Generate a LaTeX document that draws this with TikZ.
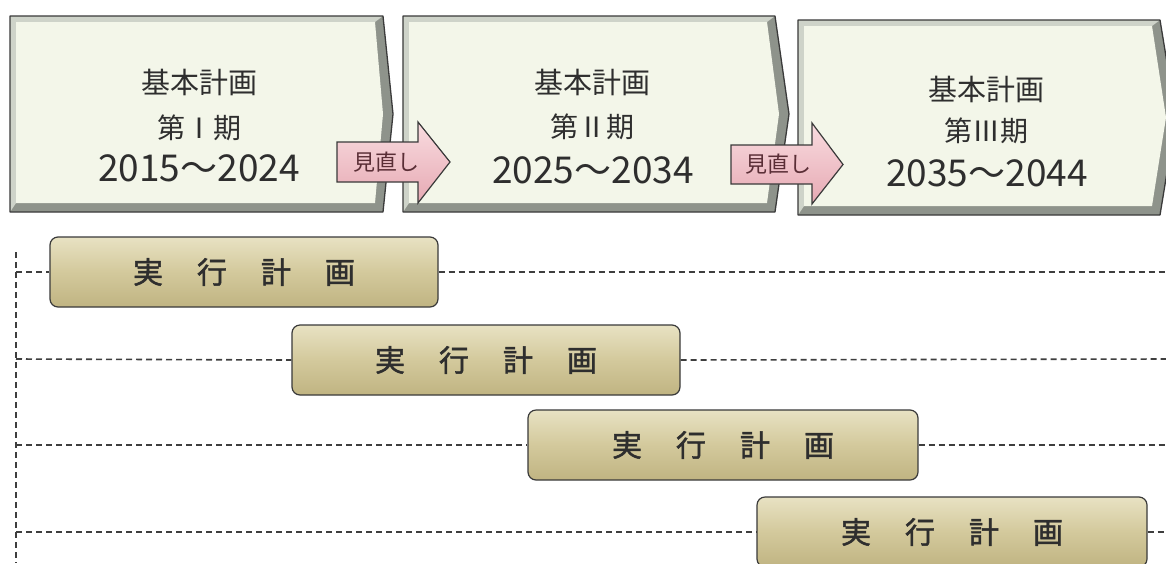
\documentclass[tikz,border=0pt]{standalone}
\usepackage{fontspec}
\setmainfont{Noto Sans CJK JP}
\newfontfamily\barfont[FakeBold=1.6]{Noto Sans CJK JP}
\definecolor{boxfill}{HTML}{F3F6E9}
\definecolor{bevdark}{HTML}{8E938B}
\definecolor{bevlight}{HTML}{CED3C9}
\definecolor{edgecol}{HTML}{3A3A3A}
\definecolor{pinkT}{HTML}{F9DCE0}
\definecolor{pinkB}{HTML}{E6A9B3}
\definecolor{pinktxt}{HTML}{5A2E36}
\definecolor{barT}{HTML}{E8E2C3}
\definecolor{barM}{HTML}{D3C99C}
\definecolor{barB}{HTML}{C0B482}
\definecolor{txtcol}{HTML}{2E2E2E}
\definecolor{dashcol}{HTML}{3E3E3E}
\newcommand\planbox[5]{% x0, y0, xr, xp, y1
  \pgfmathsetmacro\ym{(#2+#5)/2}
  \fill[bevdark] (#1,#2) -- (#3,#2) -- (#4,\ym) -- (#3,#5) -- (#1,#5) -- cycle;
  \fill[bevlight] (#1,#2) -- (#3,#2) -- (#3-8,#2+6) -- (#1+6,#2+6) -- (#1+6,#5-9) -- (#1,#5) -- cycle;
  \fill[boxfill] (#1+6,#2+6) -- (#3-8,#2+6) -- (#4-10,\ym) -- (#3-8,#5-9) -- (#1+6,#5-9) -- cycle;
  \draw[edgecol, line width=1.3pt, line join=round] (#1,#2) -- (#3,#2) -- (#4,\ym) -- (#3,#5) -- (#1,#5) -- cycle;
}
\newcommand\revarrow[7]{% xl, yt, xb, ht, xtip, hb, yb
  \pgfmathsetmacro\ymid{(#2+#7)/2}
  \path[top color=pinkT, bottom color=pinkB, draw=edgecol, line width=1.2pt, line join=miter]
    (#1,#2) -- (#3,#2) -- (#3,#4) -- (#5,\ymid) -- (#3,#6) -- (#3,#7) -- (#1,#7) -- cycle;
}
\tikzset{
  line1/.style={text=txtcol, font=\fontsize{29}{29}\selectfont, inner sep=0pt},
  line2/.style={text=txtcol, font=\fontsize{28}{28}\selectfont, inner sep=0pt},
  line3/.style={text=txtcol, font=\fontsize{37}{37}\selectfont, inner sep=0pt},
  revtext/.style={text=pinktxt, font=\fontsize{22}{22}\selectfont, inner sep=0pt},
  planbar/.style={rounded corners=8pt, draw=edgecol, line width=1.2pt,
    top color=barT, bottom color=barB, middle color=barM,
    minimum height=70pt, inner sep=0pt, text=txtcol,
    font=\barfont\fontsize{30}{30}\selectfont},
  spine/.style={dashcol, line width=1.6pt, dash pattern=on 6pt off 4pt},
}
\newcommand\jk{実\hspace{34pt}行\hspace{34pt}計\hspace{34pt}画}
\begin{document}
\begin{tikzpicture}[x=1pt,y=-1pt]
\useasboundingbox (0,0) rectangle (1166,563);
\clip (0,0) rectangle (1166,563);
\fill[white] (0,0) rectangle (1166,563);

% top plan boxes
\planbox{10}{16}{383}{393}{212}
\planbox{403}{16}{775}{789}{212}
\planbox{798}{20}{1160}{1176}{215}

\node[line1] (p1a) at (199,82) {基本計画};
\node[line2] (p1b) at (199,128) {第Ⅰ期};
\node[line3] (p1c) at (199,168) {2015～2024};
\node[line1] (p2a) at (592,82) {基本計画};
\node[line2] (p2b) at (592,127) {第Ⅱ期};
\node[line3] (p2c) at (593,170) {2025～2034};
\node[line1] (p3a) at (986,89) {基本計画};
\node[line2] (p3b) at (986,131) {第Ⅲ期};
\node[line3] (p3c) at (987,173) {2035～2044};

% review arrows
\revarrow{337}{142}{418}{122}{450}{203}{182}
\node[revtext] (r1) at (386,162) {見直し};
\revarrow{731}{145}{812}{123}{843}{204}{184}
\node[revtext] (r2) at (778,164) {見直し};

% implementation plan bars
\node[planbar, minimum width=388pt] (b1) at (244,272) {\jk};
\node[planbar, minimum width=388pt] (b2) at (486,360) {\jk};
\node[planbar, minimum width=390pt] (b3) at (723,445) {\jk};
\node[planbar, minimum width=390pt] (b4) at (952,532) {\jk};

% dashed guides
\coordinate (vtop) at (16,252);
\coordinate (vbot) at (16,563);
\coordinate (s1) at (16,272);
\coordinate (s2) at (16,359);
\coordinate (s3) at (16,445);
\coordinate (s4) at (16,532);
\coordinate (e1) at (1166,272);
\coordinate (e2) at (1166,359);
\coordinate (e3) at (1166,445);
\coordinate (e4) at (1166,532);
\draw[spine] (vtop) -- (vbot);
\draw[spine] (s1) -- (b1.west);
\draw[spine] (b1.east) -- (e1);
\draw[spine] (s2) -- (b2.west);
\draw[spine] (b2.east) -- (e2);
\draw[spine] (s3) -- (b3.west);
\draw[spine] (b3.east) -- (e3);
\draw[spine] (s4) -- (b4.west);
\draw[spine] (b4.east) -- (e4);
\end{tikzpicture}
\end{document}
